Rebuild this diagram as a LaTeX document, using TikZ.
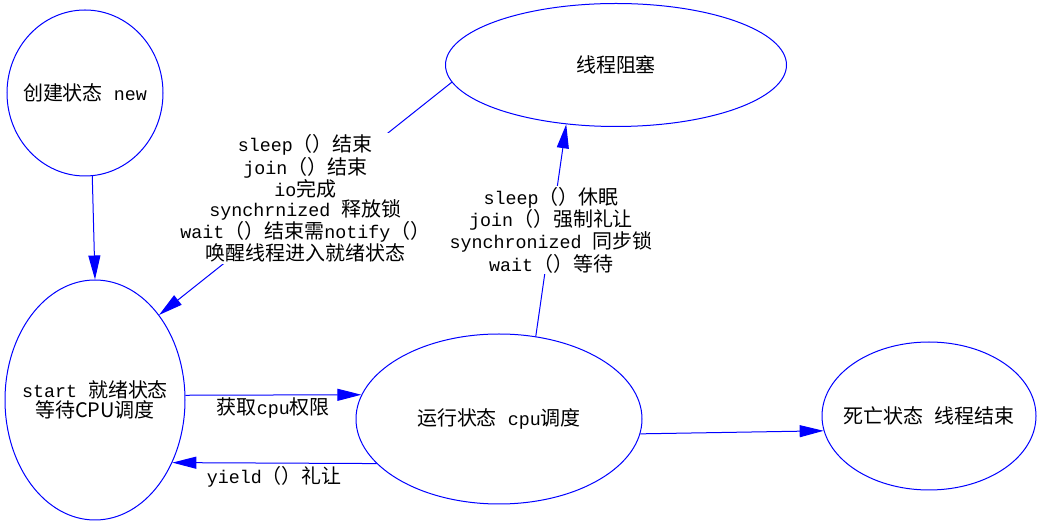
\documentclass[tikz,border=0pt]{standalone}
\usepackage{fontspec}
\setmainfont{Liberation Mono}
\newfontfamily\cjkf[Scale=1.09]{Noto Sans CJK SC}
\newcommand{\zh}[1]{{\cjkf #1}}
\usetikzlibrary{shapes.geometric,arrows.meta}
\definecolor{edgeblue}{RGB}{0,0,255}
\tikzset{
  st/.style={ellipse, draw=edgeblue, line width=0.75pt, inner sep=0pt},
  txt/.style={inner sep=0pt, align=center,
    font=\fontsize{13.75pt}{15.2pt}\selectfont},
  arr/.style={draw=edgeblue, line width=0.75pt,
    -{Triangle[length=18pt,width=9pt]}, fill=none},
  lab/.style={txt, fill=white, inner sep=1pt},
  blab/.style={txt, inner sep=1pt}
}
\begin{document}
\begin{tikzpicture}[x=0.75pt,y=-0.75pt]
\useasboundingbox[fill=white] (0,0) rectangle (1050,523);
\node[st, minimum width=117pt, minimum height=124.5pt,
  label={[txt]center:\zh{创建状态} new}] (new) at (85,93) {};
\node[st, minimum width=135pt, minimum height=180pt,
  label={[txt]center:{start \zh{就绪状态}\\\zh{等待CPU调度}}}] (ready) at (95,400) {};
\node[st, minimum width=255.75pt, minimum height=92.25pt,
  label={[txt]center:\zh{线程阻塞}}] (block) at (616,65) {};
\node[st, minimum width=214.5pt, minimum height=127.5pt,
  label={[txt]center:{\zh{运行状态} cpu\zh{调度}}}] (run) at (499,419) {};
\node[st, minimum width=160.5pt, minimum height=111pt,
  label={[txt]center:{\zh{死亡状态} \zh{线程结束}}}] (dead) at (929,416) {};

\draw[arr] (new.-85) -- (ready.90);
\draw[arr] (block.186) -- node[lab] {sleep\zh{（）结束}\\join\zh{（）结束}\\io\zh{完成}\\synchrnized \zh{释放锁}\\wait\zh{（）结束需}notify\zh{（）}\\\zh{唤醒线程进入就绪状态}} (ready.53);
\draw[arr] (run.66) -- node[lab] {sleep\zh{（）休眠}\\join\zh{（）强制礼让}\\synchronized \zh{同步锁}\\wait\zh{（）等待}} (block.230);
\draw[arr] (ready.3) -- node[blab, below=1pt] {\zh{获取}cpu\zh{权限}} (run.170);
\draw[arr] (run.200) -- node[blab, below=1pt] {yield\zh{（）礼让}} (ready.-39);
\draw[arr] (run.-6) -- (dead.188);
\end{tikzpicture}
\end{document}
